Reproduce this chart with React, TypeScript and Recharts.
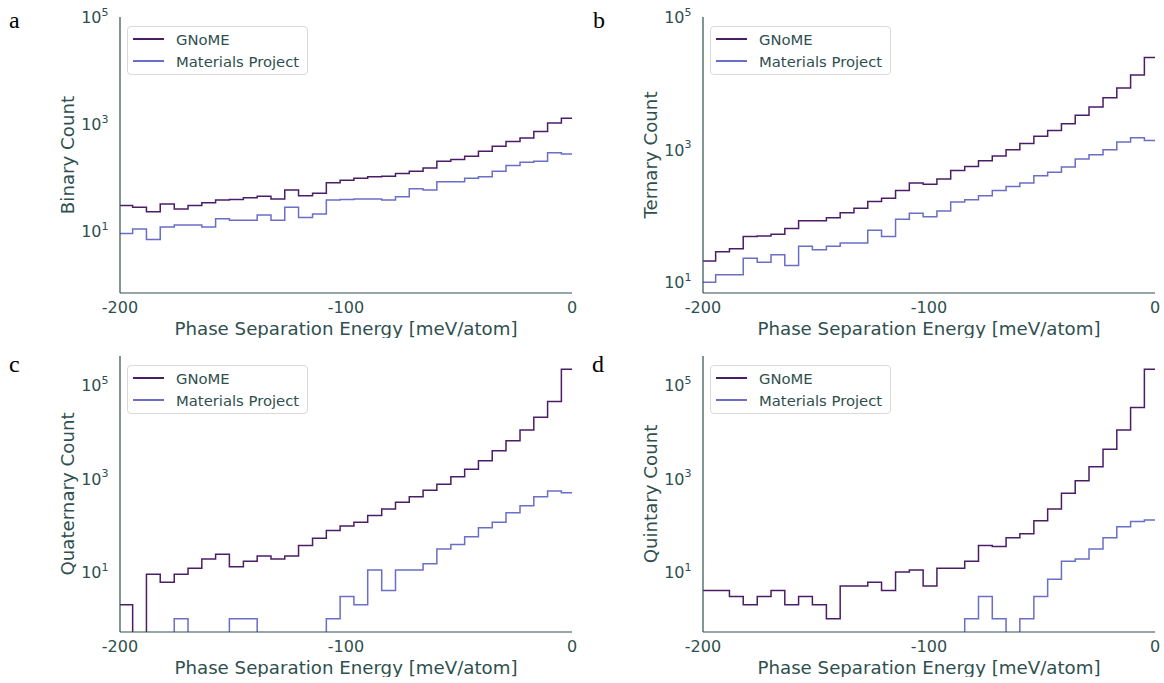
import React from 'react';
import { LineChart, Line, XAxis, YAxis, Legend, Label } from 'recharts';

// left edges of the histogram bins (meV/atom); first bin is clipped at -200
const binEdges = [
  -200, -194.4, -188.3, -182.2, -176.0, -169.9, -163.8, -157.7, -151.6, -145.4, -139.3,
  -133.2, -127.1, -121.0, -114.8, -108.7, -102.6, -96.5, -90.4, -84.2, -78.1, -72.0,
  -65.9, -59.8, -53.6, -47.5, -41.4, -35.3, -29.2, -23.0, -16.9, -10.8, -4.7,
];

const binaryGnome = [30, 28, 23, 32, 26, 30, 34, 38, 39, 42, 45, 40, 59, 46, 51, 80, 89, 97, 104, 106, 120, 132, 152, 203, 218, 250, 310, 385, 475, 550, 730, 1050, 1290];
const binaryMp = [9, 11, 7, 12, 13, 13, 12, 17, 16, 16, 20, 16, 28, 18, 21, 38, 39, 40, 40, 38, 44, 62, 59, 84, 84, 97, 104, 132, 169, 194, 203, 290, 276];

const ternaryGnome = [21, 29, 32, 49, 50, 53, 65, 85, 85, 94, 112, 131, 165, 185, 242, 313, 302, 360, 485, 558, 680, 800, 1000, 1235, 1590, 1950, 2460, 3300, 4380, 6040, 8500, 13400, 24600];
const ternaryMp = [10, 13, 13, 23, 20, 26, 18, 35, 31, 35, 39, 39, 61, 49, 89, 110, 97, 119, 162, 175, 202, 242, 278, 313, 404, 458, 550, 725, 840, 1000, 1310, 1510, 1380];

const quaternaryGnome = [2, 0, 9, 6, 9, 12, 19, 24, 13, 17, 22, 19, 22, 37, 53, 77, 97, 116, 161, 223, 310, 409, 560, 756, 1100, 1580, 2400, 3960, 6450, 11000, 20500, 44500, 219000];
const quaternaryMp = [0, 0, 0, 0, 1, 0, 0, 0, 1, 1, 0, 0, 0, 0, 0, 1, 3, 2, 11, 4, 11, 11, 15, 31, 39, 57, 89, 116, 186, 262, 409, 540, 500];

const quintaryGnome = [4, 4, 3, 2, 3, 4, 2, 3, 2, 1, 5, 5, 6, 4, 10, 11, 5, 12, 12, 17, 37, 35, 54, 66, 125, 223, 484, 900, 1780, 4250, 11000, 33000, 219000];
const quintaryMp = [0, 0, 0, 0, 0, 0, 0, 0, 0, 0, 0, 0, 0, 0, 0, 0, 0, 0, 0, 1, 3, 1, 0, 1, 3, 7, 17, 19, 31, 54, 93, 120, 130];

const xTicks = [-200, -100, 0];
const yTicks = [10, 1000, 100000];

const GNOME_COLOR = '#4B1D66';
const MP_COLOR = '#6A6EC6';
const INK = '#2F4F4F';
const FONT = '"DejaVu Sans", sans-serif';

// zero counts can't sit on a log axis; push them below the plot so they get clipped
function buildRows(gnome: number[], mp: number[], floor: number) {
  const rows = binEdges.map((x, i) => ({
    x,
    gnome: gnome[i] > 0 ? gnome[i] : floor,
    mp: mp[i] > 0 ? mp[i] : floor,
  }));
  const last = rows[rows.length - 1];
  rows.push({ x: 0, gnome: last.gnome, mp: last.mp });
  return rows;
}

function PowerTick(props: any) {
  const { x, y, payload } = props;
  const exp = Math.round(Math.log10(payload.value));
  return (
    <text x={x} y={y + 6} textAnchor="end" fill={INK} fontSize={16} fontFamily={FONT}>
      10<tspan dy={-7.5} fontSize={11}>{exp}</tspan>
    </text>
  );
}

function LegendBox(props: any) {
  const items = props.payload || [];
  return (
    <div
      style={{
        width: 181,
        height: 49,
        boxSizing: 'border-box',
        border: '1px solid #dadada',
        borderRadius: 4,
        background: 'rgba(255,255,255,0.8)',
        fontFamily: FONT,
        fontSize: 14.8,
        color: INK,
        paddingTop: 1,
        paddingLeft: 5,
        whiteSpace: 'nowrap',
      }}
    >
      {items.map((it: any) => (
        <div key={it.value} style={{ display: 'flex', alignItems: 'center', height: 22 }}>
          <span style={{ width: 31, height: 1.5, background: it.color, marginRight: 12 }} />
          <span>{it.value}</span>
        </div>
      ))}
    </div>
  );
}

interface PanelProps {
  left: number;
  top: number;
  height: number;
  marginTop: number;
  yLabel: string;
  yDomain: [number, number];
  gnome: number[];
  mp: number[];
}

function Panel({ left, top, height, marginTop, yLabel, yDomain, gnome, mp }: PanelProps) {
  const rows = buildRows(gnome, mp, yDomain[0] / 20);
  return (
    <div style={{ position: 'absolute', left, top }}>
      <LineChart width={582} height={height} data={rows} margin={{ top: marginTop, right: 10, left: 60, bottom: 0 }}>
        <XAxis
          type="number"
          dataKey="x"
          domain={[-200, 0]}
          ticks={xTicks}
          interval={0}
          tickLine={false}
          tickSize={0}
          tickMargin={8.5}
          height={45}
          axisLine={{ stroke: INK, strokeWidth: 1.2 }}
          tick={{ fill: INK, fontSize: 16, fontFamily: FONT }}
        >
          <Label value="Phase Separation Energy [meV/atom]" position="insideBottom" offset={3} fill={INK} fontSize={18.2} fontFamily={FONT} />
        </XAxis>
        <YAxis
          scale="log"
          domain={yDomain}
          allowDataOverflow
          ticks={yTicks}
          interval={0}
          width={60}
          tickLine={false}
          tickSize={0}
          tickMargin={11.5}
          axisLine={{ stroke: INK, strokeWidth: 1.2 }}
          tick={<PowerTick />}
        >
          <Label value={yLabel} angle={-90} position="insideLeft" offset={8} fill={INK} fontSize={18.2} fontFamily={FONT} style={{ textAnchor: 'middle' }} />
        </YAxis>
        <Legend
          layout="vertical"
          align="center"
          verticalAlign="middle"
          content={<LegendBox />}
          wrapperStyle={{ left: 127, top: marginTop + 9, width: 181, height: 49 }}
        />
        <Line type="stepAfter" dataKey="gnome" name="GNoME" stroke={GNOME_COLOR} strokeWidth={1.5} dot={false} activeDot={false} isAnimationActive={false} />
        <Line type="stepAfter" dataKey="mp" name="Materials Project" stroke={MP_COLOR} strokeWidth={1.5} dot={false} activeDot={false} isAnimationActive={false} />
      </LineChart>
    </div>
  );
}

const letterStyle: React.CSSProperties = {
  position: 'absolute',
  fontFamily: '"Liberation Serif", serif',
  fontSize: 24,
  color: '#000',
  lineHeight: 1,
};

export default function App() {
  return (
    <div style={{ position: 'absolute', left: 0, top: 0, width: 1164, height: 683, background: '#fff', overflow: 'hidden' }}>
      <Panel left={0} top={0} height={338} marginTop={17} yLabel="Binary Count" yDomain={[0.7, 100000]} gnome={binaryGnome} mp={binaryMp} />
      <Panel left={583} top={0} height={338} marginTop={17} yLabel="Ternary Count" yDomain={[6.9, 100000]} gnome={ternaryGnome} mp={ternaryMp} />
      <Panel left={0} top={341} height={336} marginTop={15} yLabel="Quaternary Count" yDomain={[0.52, 420000]} gnome={quaternaryGnome} mp={quaternaryMp} />
      <Panel left={583} top={341} height={336} marginTop={15} yLabel="Quintary Count" yDomain={[0.52, 420000]} gnome={quintaryGnome} mp={quintaryMp} />
      <div style={{ ...letterStyle, left: 9, top: 8 }}>a</div>
      <div style={{ ...letterStyle, left: 593, top: 8 }}>b</div>
      <div style={{ ...letterStyle, left: 9, top: 352 }}>c</div>
      <div style={{ ...letterStyle, left: 592, top: 352 }}>d</div>
    </div>
  );
}
